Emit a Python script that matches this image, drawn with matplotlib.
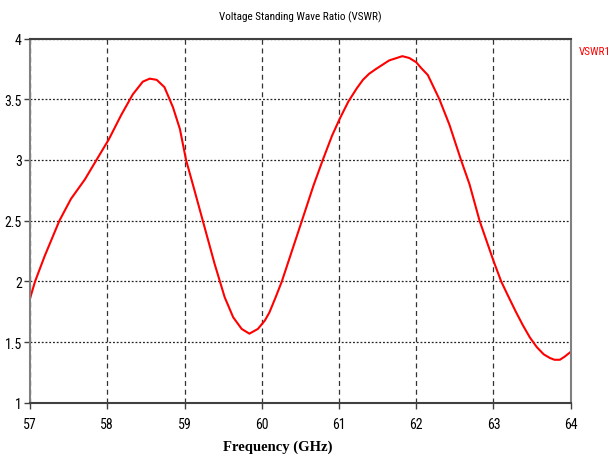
import matplotlib.pyplot as plt

freq = [57.0, 57.065, 57.19, 57.38, 57.53, 57.71, 57.86, 58.02, 58.18, 58.33, 58.46, 58.55,
        58.64, 58.74, 58.85, 58.94, 59.02, 59.13, 59.26, 59.39, 59.52, 59.63, 59.74, 59.84,
        59.95, 60.04, 60.1, 60.18, 60.26, 60.52, 60.67, 60.79, 60.91, 61.01, 61.12, 61.23,
        61.31, 61.39, 61.48, 61.65, 61.82, 61.91, 62.0, 62.06, 62.15, 62.3, 62.43, 62.58, 62.69,
        62.82, 63.0, 63.1, 63.19, 63.29, 63.38, 63.47, 63.56, 63.65, 63.73, 63.79, 63.86,
        63.92, 64.0]
vswr = [1.86, 2.0, 2.21, 2.5, 2.68, 2.84, 3.0, 3.17, 3.37, 3.54, 3.645, 3.67,
        3.66, 3.6, 3.435, 3.256, 3.0, 2.748, 2.446, 2.144, 1.87, 1.705, 1.609, 1.57,
        1.609, 1.678, 1.746, 1.87, 2.0, 2.5, 2.79, 3.0, 3.2, 3.34, 3.48, 3.59,
        3.66, 3.71, 3.75, 3.82, 3.855, 3.84, 3.805, 3.76, 3.7, 3.5, 3.29, 3.0, 2.8,
        2.5, 2.17, 2.0, 1.88, 1.75, 1.64, 1.54, 1.46, 1.4, 1.37, 1.355, 1.355,
        1.38, 1.42]
xticks = [57, 58, 59, 60, 61, 62, 63, 64]
yticks = [1, 1.5, 2, 2.5, 3, 3.5, 4]
ytick_labels = ["1", "1.5", "2", "2.5", "3", "3.5", "4"]

narrow = ['Liberation Sans Narrow', 'DejaVu Sans Condensed', 'Roboto Condensed',
          'Open Sans Condensed', 'DejaVu Sans']

fig = plt.figure(figsize=(6.13, 4.6), dpi=100)
ax = fig.add_axes([0.049, 0.122, 0.882, 0.792])

ax.plot(freq, vswr, color="#ff0000", lw=1.5)

ax.set_xlim(57, 64)
ax.set_ylim(1, 4)
ax.set_xticks(xticks)
ax.set_yticks(yticks)
ax.set_yticklabels(ytick_labels)
for lab in ax.get_xticklabels() + ax.get_yticklabels():
    lab.set_family(narrow)
    lab.set_fontsize(10)
ax.tick_params(axis="both", length=4, width=1, color="#404040")
ax.tick_params(axis="x", pad=6)
ax.tick_params(axis="y", pad=2)

ax.xaxis.grid(True, linestyle=(0, (4, 3)), color="#333333", lw=0.9)
ax.yaxis.grid(True, linestyle=(0, (1.5, 1.5)), color="#222222", lw=0.9)

for side in ["top", "bottom"]:
    ax.spines[side].set_color("#404040")
    ax.spines[side].set_linewidth(1.5)
for side in ["left", "right"]:
    ax.spines[side].set_color("#808080")
    ax.spines[side].set_linewidth(1.5)

ax.set_title("Voltage Standing Wave Ratio (VSWR)", fontsize=8, family=narrow, pad=14)
ax.set_xlabel("Frequency (GHz)", fontsize=10.5, fontweight="bold", family="Liberation Serif")
ax.xaxis.set_label_coords(0.458, -0.1)
fig.text(0.944, 0.88, "VSWR1", color="#ff0000", fontsize=8, family=narrow)

fig.savefig("out.png", dpi=100)
